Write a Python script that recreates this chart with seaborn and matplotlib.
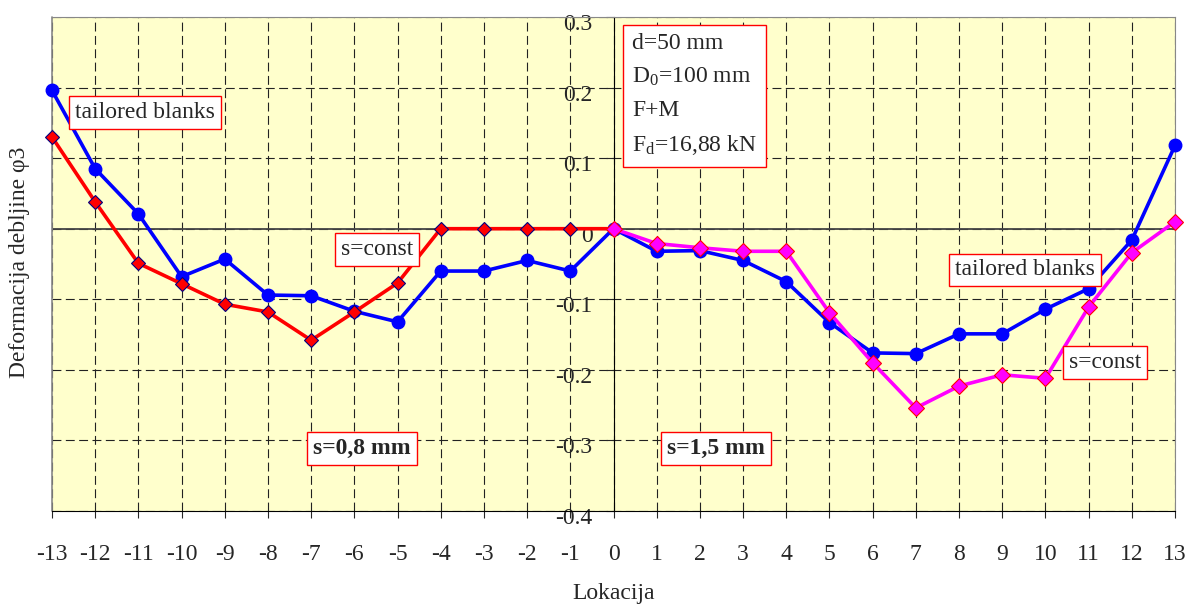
import pandas as pd
import seaborn as sns
import matplotlib.pyplot as plt
from matplotlib.transforms import ScaledTranslation

# data
loc_left = list(range(-13, 1))
tb_left = [0.196, 0.085, 0.021, -0.068, -0.043, -0.094, -0.095, -0.117, -0.132,
           -0.060, -0.060, -0.045, -0.060, 0.0]
sc_left = [0.130, 0.038, -0.049, -0.078, -0.107, -0.118, -0.158, -0.118, -0.077,
           0.0, 0.0, 0.0, 0.0, 0.0]

loc_right = list(range(0, 14))
tb_right = [0.0, -0.032, -0.031, -0.045, -0.075, -0.133, -0.176, -0.177, -0.149,
            -0.149, -0.114, -0.085, -0.016, 0.118]
sc_right = [0.0, -0.021, -0.027, -0.032, -0.032, -0.119, -0.190, -0.254, -0.223,
            -0.207, -0.212, -0.111, -0.034, 0.010]

x_ticks = list(range(-13, 14))
y_ticks = [-0.4, -0.3, -0.2, -0.1, 0.0, 0.1, 0.2, 0.3]
y_tick_labels = ["-0.4", "-0.3", "-0.2", "-0.1", "0", "0.1", "0.2", "0.3"]

sns.set_style("white")
plt.rcParams["font.family"] = ["Liberation Serif", "DejaVu Serif"]
plt.rcParams["mathtext.fontset"] = "custom"
plt.rcParams["mathtext.rm"] = "Liberation Serif"
plt.rcParams["mathtext.it"] = "Liberation Serif:italic"
plt.rcParams["axes.unicode_minus"] = False

left = pd.DataFrame({"loc": loc_left, "tb": tb_left, "sc": sc_left})
right = pd.DataFrame({"loc": loc_right, "tb": tb_right, "sc": sc_right})

fig = plt.figure(figsize=(11.9, 6.05), dpi=100)
ax = fig.add_axes([0.0437, 0.1554, 0.9437, 0.8165])
ax.set_facecolor("#FFFFCC")

# grid and zero line
ax.grid(True, color="#222222", linestyle=(0, (8, 4)), linewidth=0.8)
ax.axhline(0, color="#444444", linewidth=1.3, zorder=1.5)

line_kw = dict(linewidth=2.6, ax=ax, clip_on=False, zorder=3)
sns.lineplot(data=left, x="loc", y="tb", color="#0000FF", marker="o", markersize=9,
             markeredgecolor="#0000FF", markeredgewidth=1, **line_kw)
sns.lineplot(data=right, x="loc", y="tb", color="#0000FF", marker="o", markersize=9,
             markeredgecolor="#0000FF", markeredgewidth=1, **line_kw)
sns.lineplot(data=left, x="loc", y="sc", color="#FF0000", marker="D", markersize=7,
             markeredgecolor="#000080", markeredgewidth=0.8, **line_kw)
sns.lineplot(data=right, x="loc", y="sc", color="#FF00FF", marker="D", markersize=8,
             markeredgecolor="#FF0000", markeredgewidth=0.8, **line_kw)

ax.set_xlim(-13, 13)
ax.set_ylim(-0.4, 0.3)
ax.set_xticks(x_ticks)
ax.set_xticklabels([str(v) for v in x_ticks])
ax.set_yticks(y_ticks)
ax.set_yticklabels(y_tick_labels)

ax.spines["left"].set_position(("data", 0))
ax.spines["left"].set_color("black")
ax.spines["left"].set_zorder(2.5)
ax.spines["bottom"].set_color("black")
ax.spines["top"].set_color("#888888")
ax.spines["right"].set_color("#888888")
ax.axvline(-13, color="#888888", linewidth=1.2, clip_on=False)

ax.tick_params(axis="x", bottom=True, direction="out", length=5, width=0.8,
               pad=19, labelsize=17)
ax.tick_params(axis="y", left=True, direction="out", length=6, width=0.8,
               pad=9, labelsize=17)
# y labels sit a little below their ticks in the original
shift = ScaledTranslation(0, -5 / 100, fig.dpi_scale_trans)
for lab in ax.get_yticklabels():
    lab.set_transform(lab.get_transform() + shift)
ax.set_xlabel("")
ax.set_ylabel("")

fig.text(614 / 1190, 1 - 593 / 605, "Lokacija", ha="center", va="center", fontsize=17)
fig.text(20 / 1190, 1 - 262 / 605, "Deformacija debljine φ3", rotation=90,
         ha="center", va="center", fontsize=17)

box = dict(boxstyle="square,pad=0.25", facecolor="white", edgecolor="red", linewidth=1)
ax.text(-10.85, 0.165, "tailored blanks", ha="center", va="center", fontsize=17, bbox=box)
ax.text(-5.48, -0.030, "s=const", ha="center", va="center", fontsize=17, bbox=box)
ax.text(9.53, -0.0585, "tailored blanks", ha="center", va="center", fontsize=17, bbox=box)
ax.text(11.38, -0.190, "s=const", ha="center", va="center", fontsize=17, bbox=box)
ax.text(-5.82, -0.311, "s=0,8 mm", ha="center", va="center", fontsize=17,
        fontweight="bold", bbox=box)
ax.text(2.37, -0.311, "s=1,5 mm", ha="center", va="center", fontsize=17,
        fontweight="bold", bbox=box)
ax.text(0.43, 0.277, "d=50 mm\nD$_0$=100 mm\nF+M\nF$_\\mathrm{d}$=16,88 kN",
        ha="left", va="top", fontsize=17, linespacing=1.7,
        bbox=dict(boxstyle="square,pad=0.4", facecolor="white", edgecolor="red", linewidth=1))

fig.savefig("out.png", dpi=100)
